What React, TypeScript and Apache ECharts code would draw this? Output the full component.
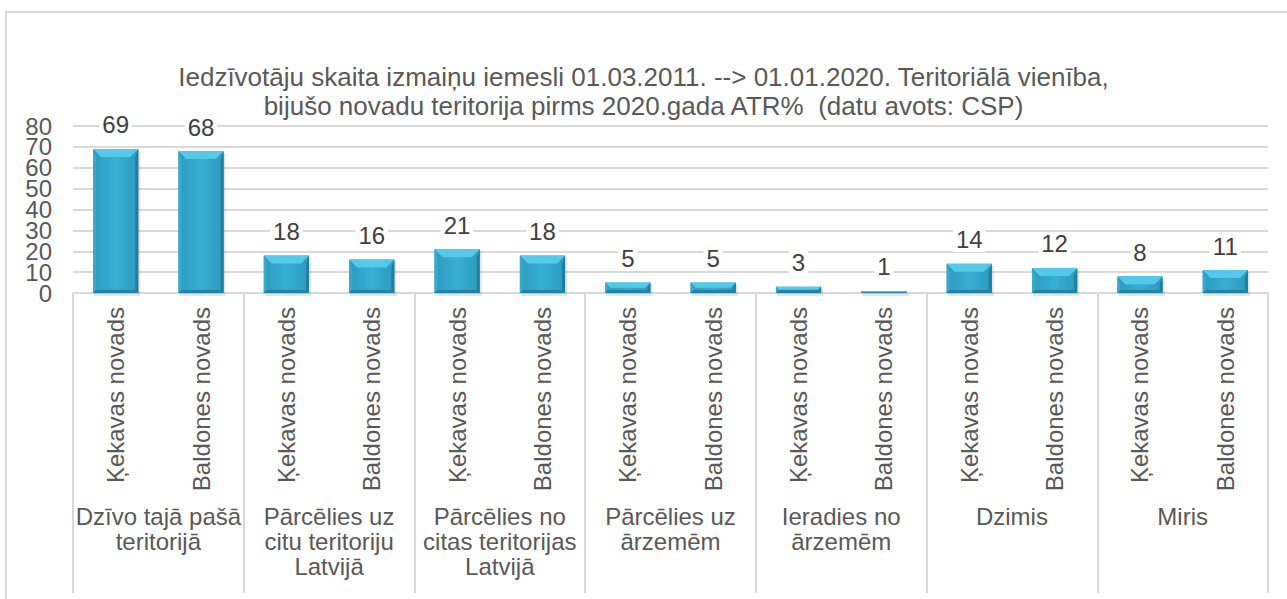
import React, { useEffect, useRef } from "react";
import * as echarts from "echarts";

const titleText =
  "Iedzīvotāju skaita izmaiņu iemesli 01.03.2011. --> 01.01.2020. Teritoriālā vienība,\nbijušo novadu teritorija pirms 2020.gada ATR%  (datu avots: CSP)";
const groups = [
  "Dzīvo tajā pašā\nteritorijā",
  "Pārcēlies uz\ncitu teritoriju\nLatvijā",
  "Pārcēlies no\ncitas teritorijas\nLatvijā",
  "Pārcēlies uz\nārzemēm",
  "Ieradies no\nārzemēm",
  "Dzimis",
  "Miris",
];
const regions = ["Ķekavas novads", "Baldones novads"];
const kekavaValues = [69, 18, 21, 5, 3, 14, 8];
const baldoneValues = [68, 16, 18, 5, 1, 12, 11];
const yTicks = [0, 10, 20, 30, 40, 50, 60, 70, 80];

const FONT = "'Liberation Sans', Arial, sans-serif";

export default function App() {
  const ref = useRef<HTMLDivElement>(null);
  useEffect(() => {
    if (!ref.current) return;
    const chart = echarts.init(ref.current, null, { renderer: "svg" });
    const cats: string[] = [];
    const data: number[][] = [];
    groups.forEach((g, i) => {
      cats.push(regions[0]);
      data.push([cats.length - 1, kekavaValues[i]]);
      cats.push(regions[1]);
      data.push([cats.length - 1, baldoneValues[i]]);
    });
    const renderItem = (params: any, api: any) => {
      const idx = api.value(0);
      const v = api.value(1);
      const top = api.coord([idx, v]);
      const bot = api.coord([idx, 0]);
      const w = api.size([1, 0])[0] * 0.53;
      const l = top[0] - w / 2;
      const r = top[0] + w / 2;
      const t = top[1];
      const b = bot[1];
      const h = b - t;
      const bv = Math.max(0, Math.min(8, h / 2, w / 2));
      const sb = Math.max(0, Math.min(3, h / 2));
      return {
        type: "group",
        children: [
          {
            type: "rect",
            shape: { x: l + 1, y: t + 2, width: w + 1, height: h + 1 },
            style: { fill: "rgba(0,0,0,0.10)" },
          },
          {
            type: "rect",
            shape: { x: l, y: t, width: w, height: h },
            style: {
              fill: new echarts.graphic.LinearGradient(0, 0, 1, 0, [
                { offset: 0, color: "#2c9bbf" },
                { offset: 0.5, color: "#38afd3" },
                { offset: 1, color: "#2c99bd" },
              ]),
            },
          },
          {
            type: "polygon",
            shape: { points: [[l, t], [r, t], [r - bv, t + bv], [l + bv, t + bv]] },
            style: { fill: "#55c9e9" },
          },
          {
            type: "polygon",
            shape: { points: [[l, t], [l + sb, t + bv], [l + sb, b - sb], [l, b]] },
            style: { fill: "#3aa9cc" },
          },
          {
            type: "polygon",
            shape: { points: [[r, t], [r - sb, t + bv], [r - sb, b - sb], [r, b]] },
            style: { fill: "#217f9e" },
          },
          {
            type: "polygon",
            shape: { points: [[l, b], [l + sb, b - sb], [r - sb, b - sb], [r, b]] },
            style: { fill: "#24819f" },
          },
          {
            type: "text",
            style: {
              text: String(v),
              x: top[0],
              y: t - 12,
              align: "center",
              verticalAlign: "bottom",
              fontSize: 24,
              fontFamily: FONT,
              fill: "#404040",
              backgroundColor: "#ffffff",
              padding: [0, 3, 0, 3],
            },
          },
        ],
      };
    };
    chart.setOption({
      animation: false,
      backgroundColor: "#ffffff",
      title: {
        text: titleText,
        left: "center",
        top: 57,
        textStyle: {
          fontSize: 26,
          fontWeight: "normal",
          color: "#595959",
          fontFamily: FONT,
          lineHeight: 29,
        },
      },
      graphic: [
        {
          type: "rect",
          shape: { x: 6, y: 12, width: 1300, height: 620 },
          style: { fill: "none", stroke: "#d9d9d9", lineWidth: 2 },
          silent: true,
        },
      ],
      grid: { left: 73, right: 19, top: 126, bottom: 306, containLabel: false },
      xAxis: [
        {
          type: "category",
          data: cats,
          boundaryGap: true,
          axisLine: { show: true, lineStyle: { color: "#d9d9d9", width: 2 } },
          axisTick: { show: false },
          axisLabel: {
            rotate: 90,
            interval: 0,
            margin: 14,
            fontSize: 24,
            fontFamily: FONT,
            color: "#595959",
          },
        },
        {
          type: "category",
          data: groups,
          position: "bottom",
          boundaryGap: true,
          axisLine: { show: false },
          axisTick: {
            show: true,
            interval: 0,
            length: 300,
            lineStyle: { color: "#d9d9d9", width: 2 },
          },
          axisLabel: {
            interval: 0,
            margin: 211,
            fontSize: 24,
            lineHeight: 25,
            fontFamily: FONT,
            color: "#595959",
            align: "center",
          },
        },
      ],
      yAxis: [
        {
          type: "value",
          min: yTicks[0],
          max: yTicks[yTicks.length - 1],
          interval: 10,
          axisLine: { show: false },
          axisTick: { show: false },
          axisLabel: { show: false },
          splitLine: { lineStyle: { color: "#d9d9d9", width: 2 } },
        },
        {
          type: "category",
          data: yTicks.map(String),
          boundaryGap: false,
          position: "left",
          axisLine: { show: false },
          axisTick: { show: false },
          splitLine: { show: false },
          axisLabel: {
            interval: 0,
            margin: 21,
            fontSize: 24,
            lineHeight: 18,
            fontFamily: FONT,
            color: "#595959",
          },
        },
      ],
      series: [
        {
          type: "custom",
          xAxisIndex: 0,
          yAxisIndex: 0,
          renderItem,
          data,
          encode: { x: 0, y: 1 },
          z: 3,
        },
      ],
    });
    return () => chart.dispose();
  }, []);
  return (
    <div
      ref={ref}
      style={{ position: "absolute", left: 0, top: 0, width: 1287, height: 599 }}
    />
  );
}
